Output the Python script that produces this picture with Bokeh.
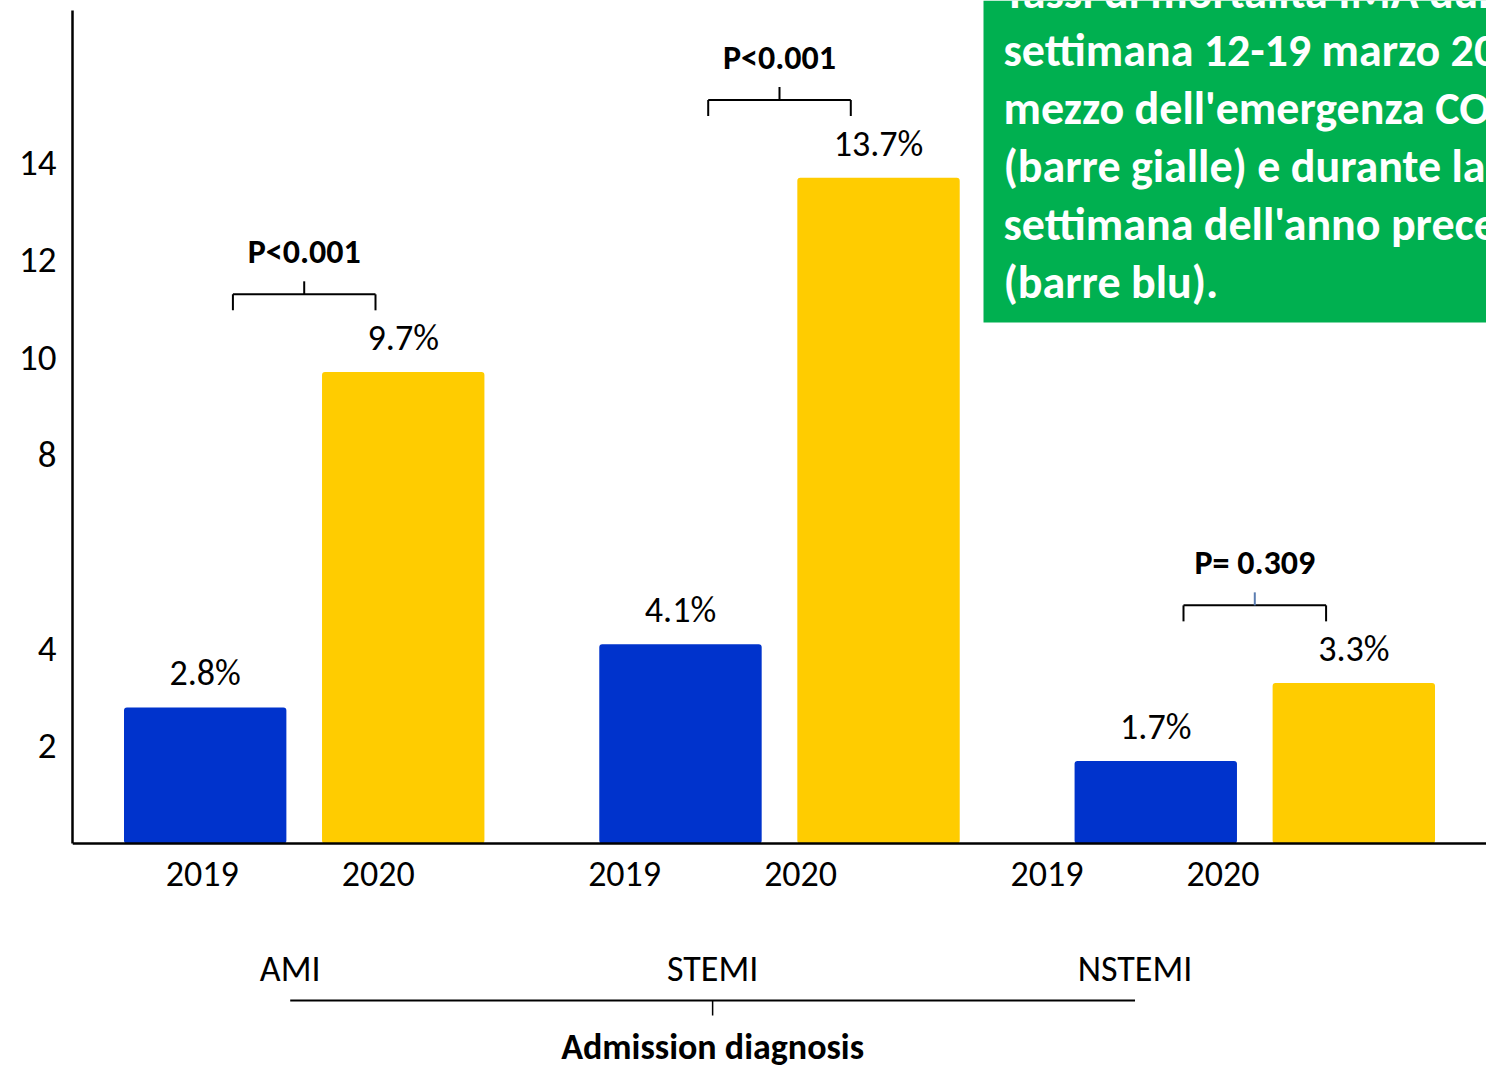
from bokeh.plotting import figure
from bokeh.models import FactorRange, Range1d, ColumnDataSource, FixedTicker, Span
from bokeh.transform import dodge, factor_cmap
from bokeh.core.properties import value
from bokeh.embed import file_html
from bokeh.resources import INLINE

# ---------------- data ----------------
groups = ["AMI", "STEMI", "NSTEMI"]
years = ["2019", "2020"]
mortality_2019 = [2.8, 4.1, 1.7]
mortality_2020 = [9.7, 13.7, 3.3]
p_values = ["P<0.001", "P<0.001", "P= 0.309"]
y_ticks = [2, 4, 8, 10, 12, 14]
x_title = "Admission diagnosis"
caption_lines = [
    "Tassi di mortalità IMA durante la",
    "settimana 12-19 marzo 2020, nel",
    "mezzo dell'emergenza COVID-19",
    "(barre gialle) e durante la",
    "settimana dell'anno precedente",
    "(barre blu).",
]

# ---------------- layout / style ----------------
W, H = 1486, 1067
LEFT = 72
BASE_PX = 843          # pixel row of the value 0
PPU = 48.6             # pixels per percentage point
FONT = "Carlito, Lato, sans-serif"
BLUE, YELLOW, GREEN = "#0033CC", "#FFCC00", "#00B050"
LABEL_SHIFT = -0.38    # label axis is drawn slightly left of the bars
BRACKET_GAP = 1.6
BRACKET_HALF = 0.36
GROUP_PAD = 0.4
BAR_PAD = 0.17

factors = [(g, y) for g in groups for y in years]
vals = [v for pair in zip(mortality_2019, mortality_2020) for v in pair]

bar_range = FactorRange(*factors, group_padding=GROUP_PAD, factor_padding=0.0,
                        range_padding=BAR_PAD, range_padding_units="absolute")
label_range = FactorRange(*factors, group_padding=GROUP_PAD, factor_padding=0.0,
                          range_padding=0.617, range_padding_units="absolute")

# synthetic x of a canvas pixel column (for the caption box only)
_syn_len = len(factors) + GROUP_PAD * (len(groups) - 1) + 2 * BAR_PAD
def px_x(px):
    return -BAR_PAD + (px - LEFT) * _syn_len / (W - LEFT)

p = figure(width=W, height=H, x_range=bar_range,
           y_range=Range1d(-(H - BASE_PX) / PPU, BASE_PX / PPU),
           output_backend="svg", toolbar_location=None, x_axis_location=None,
           min_border_left=LEFT, min_border_right=0, min_border_top=0,
           min_border_bottom=0, outline_line_color=None,
           background_fill_color="white", border_fill_color="white")
p.extra_x_ranges = {"lab": label_range}
p.extra_y_ranges = {"py": Range1d(H, 0)}
p.grid.visible = False

# y axis
ax = p.yaxis[0]
ax.ticker = FixedTicker(ticks=y_ticks)
ax.bounds = (0, (BASE_PX - 10) / PPU)
ax.axis_line_width = 2.5
ax.axis_line_color = "black"
ax.major_tick_line_color = None
ax.minor_tick_line_color = None
ax.major_tick_out = 0
ax.major_label_standoff = 16
ax.major_label_text_font = FONT
ax.major_label_text_font_size = "37px"
ax.major_label_text_color = "black"

# bars
src = ColumnDataSource(dict(
    x=factors, top=vals, year=[f[1] for f in factors],
    label=[f"{v:.1f}%" for v in vals]))
p.vbar(x="x", top="top", width=0.82, source=src, line_color=None,
       border_radius=3,
       fill_color=factor_cmap("year", [BLUE, YELLOW], years))
p.text(x="x", y="top", text="label", source=src, text_align="center",
       text_baseline="bottom", y_offset=-12, text_font=value(FONT),
       text_font_size="36px", text_color="black")

# x axis line
p.add_layout(Span(location=0, dimension="width", line_color="black",
                  line_width=2.5))

# year and group labels
lab_src = ColumnDataSource(dict(x=factors, year=[f[1] for f in factors]))
p.text(x=dodge("x", LABEL_SHIFT, range=label_range), y=0, text="year",
       source=lab_src, x_range_name="lab", text_align="center",
       text_baseline="top", y_offset=18, text_font=value(FONT),
       text_font_size="36px", text_color="black")
grp_src = ColumnDataSource(dict(g=groups))
p.text(x=dodge("g", LABEL_SHIFT, range=label_range), y=0, text="g",
       source=grp_src, x_range_name="lab", text_align="center",
       text_baseline="top", y_offset=103, text_font=value(FONT),
       text_font_size="36px", text_color="black")

# bottom bracket + axis title
yl = -157 / PPU
ends = ColumnDataSource(dict(a=[groups[0]], b=[groups[-1]],
                             m=[groups[len(groups) // 2]], t=[x_title]))
p.segment(x0=dodge("a", LABEL_SHIFT, range=label_range),
          x1=dodge("b", LABEL_SHIFT, range=label_range),
          y0=yl, y1=yl, source=ends, x_range_name="lab",
          line_color="black", line_width=2)
p.segment(x0=dodge("m", LABEL_SHIFT, range=label_range),
          x1=dodge("m", LABEL_SHIFT, range=label_range),
          y0=yl, y1=yl - 15 / PPU, source=ends, x_range_name="lab",
          line_color="black", line_width=1.5)
p.text(x=dodge("m", LABEL_SHIFT, range=label_range), y=0, text="t",
       source=ends, x_range_name="lab", text_align="center",
       text_baseline="top", y_offset=181, text_font=value(FONT),
       text_font_size="36px", text_font_style="bold", text_color="black")

# significance brackets
by = [max(a, b) + BRACKET_GAP for a, b in zip(mortality_2019, mortality_2020)]
bsrc = ColumnDataSource(dict(
    g=groups, y=by, yend=[v - 16 / PPU for v in by],
    ytick=[v + 13 / PPU for v in by], p=p_values,
    tick_color=["black", "black", "#5B7DB1"]))
L = dodge("g", -BRACKET_HALF, range=bar_range)
R = dodge("g", BRACKET_HALF, range=bar_range)
C = dodge("g", 0, range=bar_range)
p.segment(x0=L, x1=R, y0="y", y1="y", source=bsrc, line_color="black", line_width=2)
p.segment(x0=L, x1=L, y0="y", y1="yend", source=bsrc, line_color="black", line_width=2)
p.segment(x0=R, x1=R, y0="y", y1="yend", source=bsrc, line_color="black", line_width=2)
p.segment(x0=C, x1=C, y0="y", y1="ytick", source=bsrc, line_color="tick_color", line_width=2)
p.text(x=C, y="y", text="p", source=bsrc, text_align="center",
       text_baseline="bottom", y_offset=-22, text_font=value(FONT),
       text_font_size="34px", text_font_style="bold", text_color="black")

# green caption box (top right)
p.quad(left=[px_x(983)], right=[px_x(W + 20)], top=[0], bottom=[322],
       y_range_name="py", fill_color=GREEN, line_color=None)
cap = ColumnDataSource(dict(
    x=[px_x(1003)] * len(caption_lines),
    y=[-9 + 58 * i for i in range(len(caption_lines))],
    t=caption_lines))
p.text(x="x", y="y", text="t", source=cap,
       y_range_name="py", text_align="left", text_baseline="alphabetic",
       text_font=value(FONT), text_font_size="46px",
       text_font_style="bold", text_color="white")

open("out.html", "w").write(file_html(p, INLINE))
